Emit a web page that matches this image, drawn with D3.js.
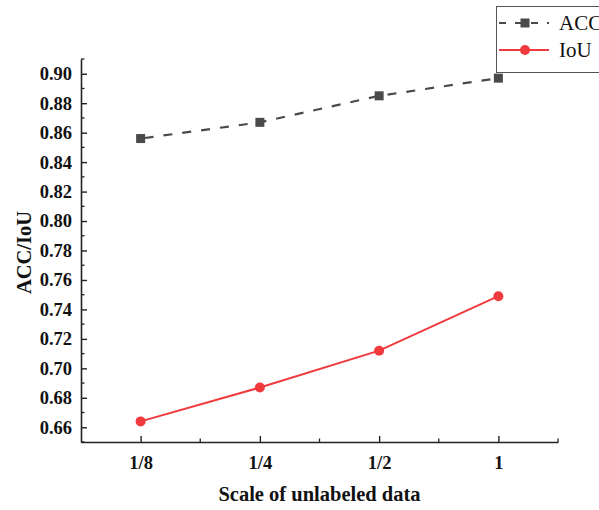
<!DOCTYPE html>
<html>
<head>
<meta charset="utf-8">
<script src="https://cdn.jsdelivr.net/npm/d3@7"></script>
<style>
  body { margin: 0; background: #fff; }
  svg { display: block; }
</style>
</head>
<body>
<div id="chart"></div>
<script>
// donnees
const categories = ["1/8", "1/4", "1/2", "1"];
const accValues = [0.856, 0.867, 0.885, 0.897];
const iouValues = [0.664, 0.687, 0.712, 0.749];
const yTicks = [0.66, 0.68, 0.70, 0.72, 0.74, 0.76, 0.78, 0.80, 0.82, 0.84, 0.86, 0.88, 0.90];
const seriesNames = ["ACC", "IoU"];

const W = 599, H = 510;
const margin = { top: 59, right: 41, bottom: 68, left: 81 };
const width = W - margin.left - margin.right,
      height = H - margin.top - margin.bottom;

const svg = d3.select("#chart").append("svg")
  .attr("width", W).attr("height", H);

const g = svg.append("g")
  .attr("transform", `translate(${margin.left},${margin.top})`);

// echelles
const x = d3.scaleLinear().domain([0.5, 4.5]).range([0, width]);
const y = d3.scaleLinear().domain([0.65, 0.91]).range([height, 0]);

const axisColor = "#222";
const tickFont = "'Liberation Serif', 'Times New Roman', serif";

// axe y : ticks vers l'interieur
const yAxis = g.append("g")
  .call(d3.axisRight(y).tickValues(yTicks).tickFormat(d3.format(".2f")).tickSize(6).tickSizeOuter(0));
yAxis.select(".domain").attr("stroke", axisColor).attr("stroke-width", 1.6);
yAxis.selectAll(".tick line").attr("stroke", axisColor).attr("stroke-width", 1.4);
yAxis.selectAll(".tick text")
  .attr("x", -9).attr("text-anchor", "end")
  .attr("font-family", tickFont).attr("font-weight", "bold")
  .attr("font-size", 18.5).attr("fill", "#111");
// petites graduations y
const yMinor = d3.range(0.65, 0.9101, 0.01).filter(v => !yTicks.some(t => Math.abs(t - v) < 1e-6));
g.append("g").selectAll("line").data(yMinor).enter().append("line")
  .attr("x1", 0).attr("x2", 3.5)
  .attr("y1", d => y(d)).attr("y2", d => y(d))
  .attr("stroke", axisColor).attr("stroke-width", 1.3);

// axe x : ticks vers le haut
const xAxis = g.append("g")
  .attr("transform", `translate(0,${height})`)
  .call(d3.axisTop(x).tickValues([1, 2, 3, 4]).tickFormat((d, i) => categories[i]).tickSize(6).tickSizeOuter(0));
xAxis.select(".domain").attr("stroke", axisColor).attr("stroke-width", 1.6);
xAxis.selectAll(".tick line").attr("stroke", axisColor).attr("stroke-width", 1.4);
xAxis.selectAll(".tick text")
  .attr("y", 27).attr("dy", 0)
  .attr("font-family", tickFont).attr("font-weight", "bold")
  .attr("font-size", 18.5).attr("fill", "#111");
g.append("g").selectAll("line").data([1.5, 2.5, 3.5, 4.5]).enter().append("line")
  .attr("x1", d => x(d)).attr("x2", d => x(d))
  .attr("y1", height).attr("y2", height - 3.5)
  .attr("stroke", axisColor).attr("stroke-width", 1.3);

// titres des axes
svg.append("text")
  .attr("x", margin.left + width / 2 + 0).attr("y", 501)
  .attr("text-anchor", "middle")
  .attr("font-family", tickFont).attr("font-weight", "bold").attr("font-size", 20.5)
  .attr("fill", "#111")
  .text("Scale of unlabeled data");
svg.append("text")
  .attr("transform", `translate(31,${margin.top + height / 2 + 2}) rotate(-90)`)
  .attr("text-anchor", "middle")
  .attr("font-family", tickFont).attr("font-weight", "bold").attr("font-size", 20.5)
  .attr("fill", "#111")
  .text("ACC/IoU");

const accColor = "#4a4a4a", iouColor = "#f03a3d";
const line = d3.line().x((d, i) => x(i + 1)).y(d => y(d));

// ACC : tirets + carres
g.append("path").datum(accValues)
  .attr("d", line).attr("fill", "none")
  .attr("stroke", accColor).attr("stroke-width", 2.2)
  .attr("stroke-dasharray", "9,10").attr("stroke-dashoffset", -4);
g.selectAll(".acc").data(accValues).enter().append("rect")
  .attr("x", (d, i) => x(i + 1) - 4.5).attr("y", d => y(d) - 4.5)
  .attr("width", 9).attr("height", 9).attr("fill", accColor);

// IoU : ligne pleine + cercles
g.append("path").datum(iouValues)
  .attr("d", line).attr("fill", "none")
  .attr("stroke", iouColor).attr("stroke-width", 2);
g.selectAll(".iou").data(iouValues).enter().append("circle")
  .attr("cx", (d, i) => x(i + 1)).attr("cy", d => y(d))
  .attr("r", 5).attr("fill", iouColor);

// legende (coupee au bord droit comme dans l'original)
const leg = svg.append("g");
leg.append("rect")
  .attr("x", 496.5).attr("y", 6.5).attr("width", 120).attr("height", 66)
  .attr("fill", "#fff").attr("stroke", "#555").attr("stroke-width", 1);
const legY = [23, 50];
seriesNames.forEach((name, i) => {
  const c = i === 0 ? accColor : iouColor;
  leg.append("line")
    .attr("x1", 499).attr("x2", 549).attr("y1", legY[i]).attr("y2", legY[i])
    .attr("stroke", c).attr("stroke-width", 2)
    .attr("stroke-dasharray", i === 0 ? "7,9" : null);
  if (i === 0) {
    leg.append("rect").attr("x", 520.5).attr("y", legY[i] - 4.5)
      .attr("width", 9).attr("height", 9).attr("fill", c);
  } else {
    leg.append("circle").attr("cx", 525).attr("cy", legY[i]).attr("r", 5).attr("fill", c);
  }
  leg.append("text")
    .attr("x", 559).attr("y", legY[i] + 7)
    .attr("font-family", tickFont).attr("font-size", 21).attr("fill", "#111")
    .text(name);
});
</script>
</body>
</html>
